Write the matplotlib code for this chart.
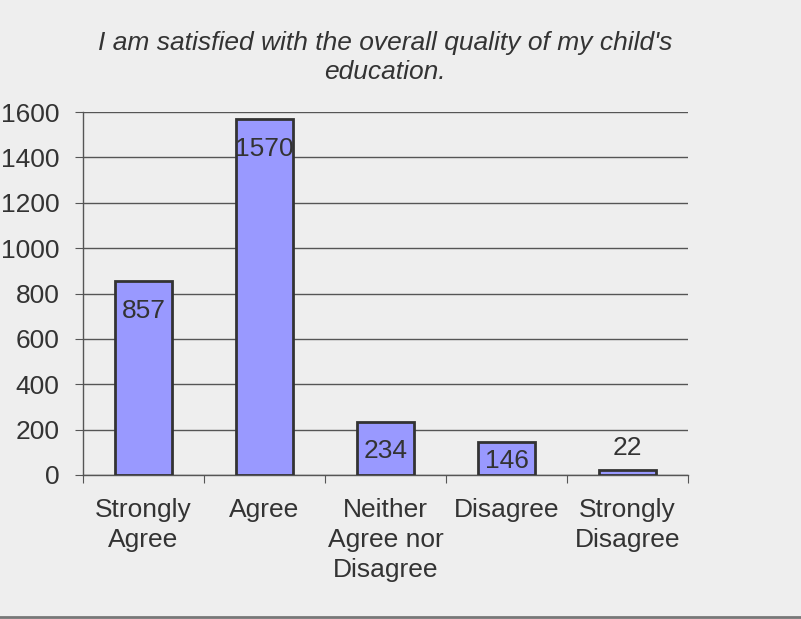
import matplotlib.pyplot as plt
from matplotlib.lines import Line2D

categories = ["Strongly\nAgree", "Agree", "Neither\nAgree nor\nDisagree", "Disagree", "Strongly\nDisagree"]
counts = [857, 1570, 234, 146, 22]
yticks = [0, 200, 400, 600, 800, 1000, 1200, 1400, 1600]

plt.rcParams["font.family"] = ["Liberation Sans", "DejaVu Sans"]

bg = "#eeeeee"
ink = "#333333"

fig = plt.figure(figsize=(8.01, 6.19), dpi=100, facecolor=bg)
ax = fig.add_axes([83 / 801, 1 - 475 / 619, 605 / 801, 363 / 619], facecolor=bg)

x = list(range(len(counts)))
ax.bar(x, counts, width=0.47, color="#9999ff", edgecolor=ink, linewidth=2, zorder=3)

# value labels: just inside the bar top, centred in short bars, above tiny ones
for xi, v in zip(x, counts):
    if v < 100:
        ax.annotate(str(v), (xi, v), xytext=(0, 22), textcoords="offset pixels",
                    ha="center", va="center", fontsize=19, color=ink, zorder=4)
    else:
        ax.text(xi, max(v - 133, v / 2 - 12), str(v), ha="center", va="center",
                fontsize=19, color=ink, zorder=4)

ax.set_xlim(-0.5, 4.5)
ax.set_ylim(0, 1600)
ax.set_yticks(yticks)
ax.set_yticklabels([str(t) for t in yticks], fontsize=19, color=ink)
ax.grid(axis="y", color="#555555", linewidth=1, zorder=1)

# category labels centred, ticks at the category boundaries
ax.set_xticks([i - 0.5 for i in range(len(counts) + 1)])
ax.set_xticklabels([])
ax.tick_params(axis="x", length=6, color="#555555", direction="out")
ax.tick_params(axis="y", length=6, color="#555555", direction="out", pad=11)
for xi, lab in zip(x, categories):
    ax.text(xi, -0.064, lab, transform=ax.get_xaxis_transform(), ha="center", va="top",
            fontsize=19, color=ink, linespacing=1.3)

for s in ("top", "right"):
    ax.spines[s].set_visible(False)
for s in ("left", "bottom"):
    ax.spines[s].set_color("#555555")
    ax.spines[s].set_linewidth(1)

fig.text(385 / 801, 1 - 57.5 / 619, "I am satisfied with the overall quality of my child's\neducation.",
         ha="center", va="center", fontsize=19, style="italic", color=ink, linespacing=1.25)

fig.add_artist(Line2D([0, 1], [1 - 617 / 619] * 2, transform=fig.transFigure, color="#777777", lw=2))

fig.savefig("out.png", dpi=100, facecolor=bg)
